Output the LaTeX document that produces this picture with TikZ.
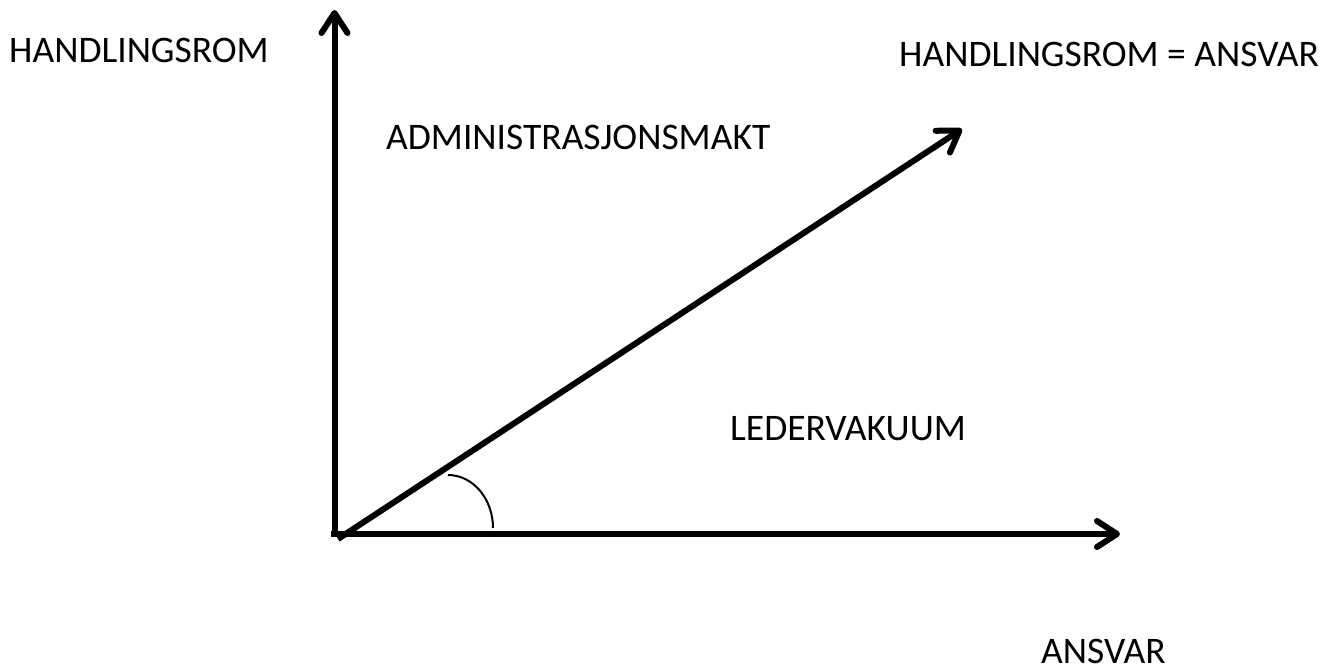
\documentclass[tikz,border=0pt]{standalone}
\usepackage{fontspec}
\setmainfont{Carlito}
\usetikzlibrary{arrows.meta}
\tikzset{
  axis/.style={line width=6pt, line cap=butt,
    -{Straight Barb[length=20pt,width=26pt,line cap=round,line join=round]}},
  lbl/.style={anchor=base west, inner sep=0pt, font=\fontsize{37.5}{45}\selectfont},
  anglearc/.style={line width=2pt}
}
\begin{document}
\begin{tikzpicture}[x=1pt,y=-1pt]
\useasboundingbox (0,0) rectangle (1338,671);
\coordinate (vbot) at (334.5,532);
\coordinate (vtop) at (334.5,10);
\coordinate (hstart) at (331,534);
\coordinate (hend) at (1120,534);
\coordinate (dstart) at (338,539);
\coordinate (dend) at (962,129);
\coordinate (arcstart) at (448,475);
\draw[axis] (vbot) -- (vtop);
\draw[axis] (hstart) -- (hend);
\draw[axis] (dstart) -- (dend);
\draw[anglearc] (arcstart) arc[start angle=-90, end angle=0, x radius=45, y radius=53];
\node[lbl] (hr) at (9,63) {HANDLINGSROM};
\node[lbl] (hra) at (899,67) {HANDLINGSROM = ANSVAR};
\node[lbl] (adm) at (386,150) {ADMINISTRASJONSMAKT};
\node[lbl] (led) at (730,440) {LEDERVAKUUM};
\node[lbl] (ans) at (1041,663) {ANSVAR};
\end{tikzpicture}
\end{document}
